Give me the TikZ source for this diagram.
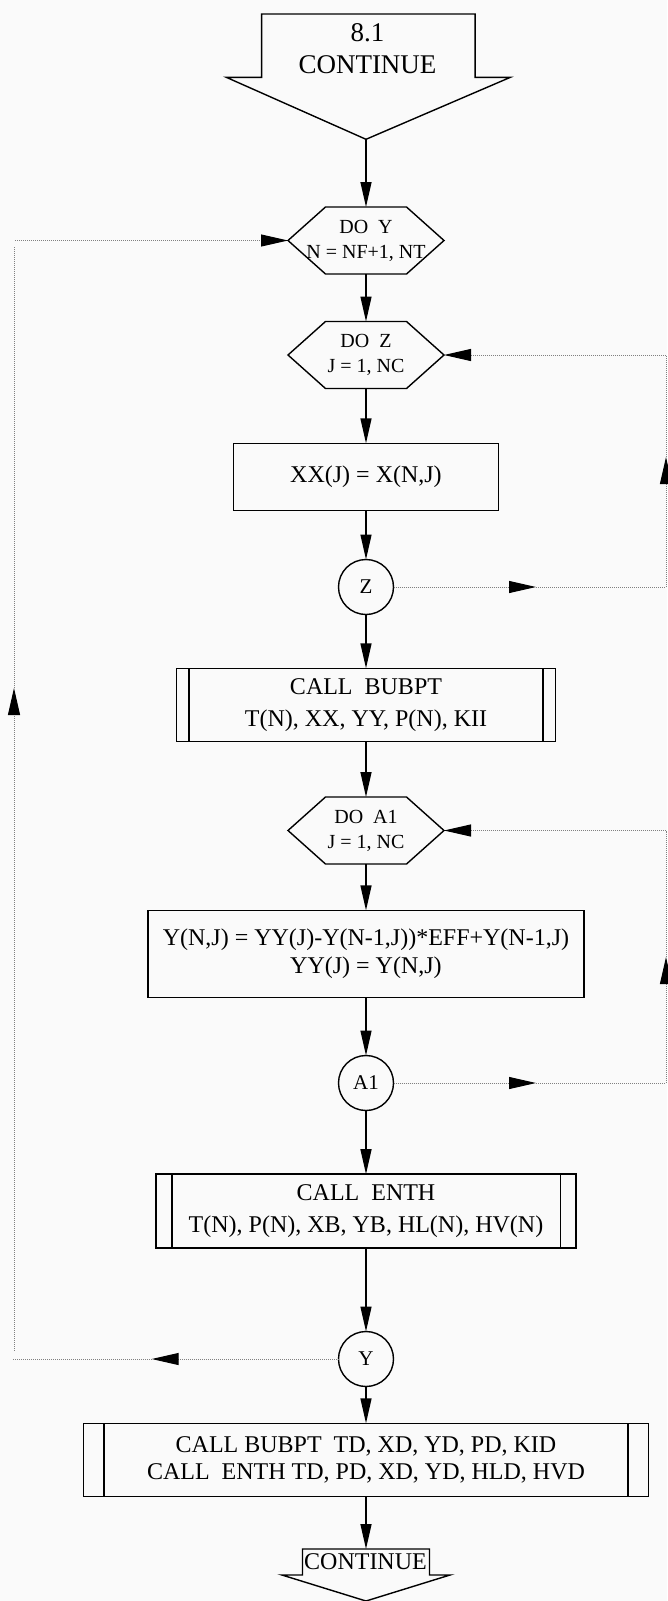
\documentclass[tikz,border=0pt]{standalone}
\usepackage{fontspec}
\setmainfont{Liberation Serif}
\usetikzlibrary{arrows.meta}
\tikzset{
  shp/.style={draw=black, line width=1.4pt},
  lbl/.style={align=center, inner sep=0pt, outer sep=0pt},
  hexbox/.style={lbl, minimum width=156pt, minimum height=67pt, font=\fontsize{20}{25}\selectfont},
  procbox/.style={shp, lbl, font=\fontsize{24}{28}\selectfont},
  conncircle/.style={shp, lbl, circle, minimum size=55pt, font=\fontsize{21}{21}\selectfont},
  conn/.style={line width=1.4pt, -{Triangle[length=25pt,width=11pt]}},
  dotline/.style={draw=black!50, line width=1pt, dash pattern=on 1pt off 1pt},
  dotarrow/.style={dotline, -{Triangle[length=27pt,width=12pt,color=black]}},
}
\newcommand\hexdraw[1]{%
  \draw[shp] (#1.west) -- ([xshift=37.5pt]#1.north west) -- ([xshift=-37.5pt]#1.north east)
    -- (#1.east) -- ([xshift=-37.5pt]#1.south east) -- ([xshift=37.5pt]#1.south west) -- cycle;}
\newcommand\subdraw[2]{%
  \draw[shp] ([xshift=#2]#1.north west) -- ([xshift=#2]#1.south west);
  \draw[shp] ([xshift=-#2]#1.north east) -- ([xshift=-#2]#1.south east);}
\begin{document}
\begin{tikzpicture}[x=1pt,y=-1pt]
\useasboundingbox (0,0) rectangle (667,1601);
\fill[gray!4] (0,0) rectangle (667,1601);

% top off-page connector
\draw[shp] (261.6,14) -- (475.1,14) -- (475.1,77.3) -- (510.4,77.3) -- (366,139.3)
  -- (226.3,77.3) -- (261.6,77.3) -- cycle;
\coordinate (toptip) at (366,139.3);
\node[lbl, font=\fontsize{27}{32}\selectfont] (start) at (367.5,49) {8.1\\CONTINUE};

% hexagon DO Y
\node[hexbox] (doy) at (366,240.5) {DO\ \ Y\\N = NF+1, NT};
\hexdraw{doy}
% hexagon DO Z
\node[hexbox] (doz) at (366,355) {DO\ \ Z\\J = 1, NC};
\hexdraw{doz}
% XX box
\node[procbox, minimum width=264.5pt, minimum height=67.4pt] (xx) at (366,477) {XX(J) = X(N,J)};
% Z connector
\node[conncircle] (zc) at (366,587) {Z};
% CALL BUBPT
\node[procbox, font=\fontsize{24}{32}\selectfont, minimum width=379.4pt, minimum height=73.4pt] (bub) at (366,705)
  {CALL\ \ BUBPT\\T(N), XX, YY, P(N), KII};
\subdraw{bub}{12.7pt}
% DO A1
\node[hexbox] (doa) at (366,830.5) {DO\ \ A1\\J = 1, NC};
\hexdraw{doa}
% Y(N,J) box
\node[procbox, font=\fontsize{24}{27.6}\selectfont, minimum width=436pt, minimum height=87.3pt] (yr) at (366,954)
  {Y(N,J) = YY(J)-Y(N-1,J))*EFF+Y(N-1,J)\\YY(J) = Y(N,J)};
% A1 connector
\node[conncircle] (ac) at (366,1083) {A1};
% CALL ENTH
\node[procbox, font=\fontsize{24}{31.7}\selectfont, minimum width=419.8pt, minimum height=73.7pt] (enth) at (366,1211)
  {CALL\ \ ENTH\\T(N), P(N), XB, YB, HL(N), HV(N)};
\subdraw{enth}{15.7pt}
% Y connector
\node[conncircle] (yc) at (366,1359) {Y};
% CALL BUBPT TD / CALL ENTH TD
\node[procbox, font=\fontsize{24}{27.7}\selectfont, minimum width=565.3pt, minimum height=73.4pt] (td) at (366,1460)
  {CALL BUBPT\ \ TD, XD, YD, PD, KID\\CALL\ \ ENTH TD, PD, XD, YD, HLD, HVD};
\subdraw{td}{20.5pt}

% bottom off-page connector
\draw[shp] (302.5,1549) -- (429.5,1549) -- (429.5,1575) -- (450,1575) -- (366,1601)
  -- (282,1575) -- (302.5,1575) -- cycle;
\coordinate (endtop) at (366,1549);
\node[lbl, font=\fontsize{24}{24}\selectfont] (endlbl) at (365.5,1562) {CONTINUE};

% main flow
\draw[conn] (toptip) -- (doy.north);
\draw[conn] (doy.south) -- (doz.north);
\draw[conn] (doz.south) -- (xx.north);
\draw[conn] (xx.south) -- (zc.north);
\draw[conn] (zc.south) -- (bub.north);
\draw[conn] (bub.south) -- (doa.north);
\draw[conn] (doa.south) -- (yr.north);
\draw[conn] (yr.south) -- (ac.north);
\draw[conn] (ac.south) -- (enth.north);
\draw[conn] (enth.south) -- (yc.north);
\draw[conn] (yc.south) -- (td.north);
\draw[conn] (td.south) -- (endtop);

% loop Y (left)
\coordinate (la) at (151.7,1359);
\coordinate (lb) at (13,1359);
\coordinate (lc) at (14,1350.5);
\coordinate (ld) at (14,688);
\coordinate (le) at (14,247);
\coordinate (lf) at (15,240.5);
\draw[dotarrow] (yc.west) -- (la);
\draw[dotline] (la) -- (lb);
\draw[dotarrow] (lc) -- (ld);
\draw[dotline] (ld) -- (le);
\draw[dotarrow] (lf) -- (doy.west);

% loop Z (right, upper)
\coordinate (ra) at (536,587);
\coordinate (rb) at (666,587);
\coordinate (rc) at (666,457);
\coordinate (rd) at (666,355);
\draw[dotarrow] (zc.east) -- (ra);
\draw[dotarrow] (ra) -- (rb) -- (rc);
\draw[dotline] (rc) -- (rd);
\draw[dotarrow] (rd) -- (doz.east);

% loop A1 (right, lower)
\coordinate (sa) at (536,1083);
\coordinate (sb) at (666,1083);
\coordinate (sc) at (666,957);
\coordinate (sd) at (666,830.5);
\draw[dotarrow] (ac.east) -- (sa);
\draw[dotarrow] (sa) -- (sb) -- (sc);
\draw[dotline] (sc) -- (sd);
\draw[dotarrow] (sd) -- (doa.east);
\end{tikzpicture}
\end{document}
